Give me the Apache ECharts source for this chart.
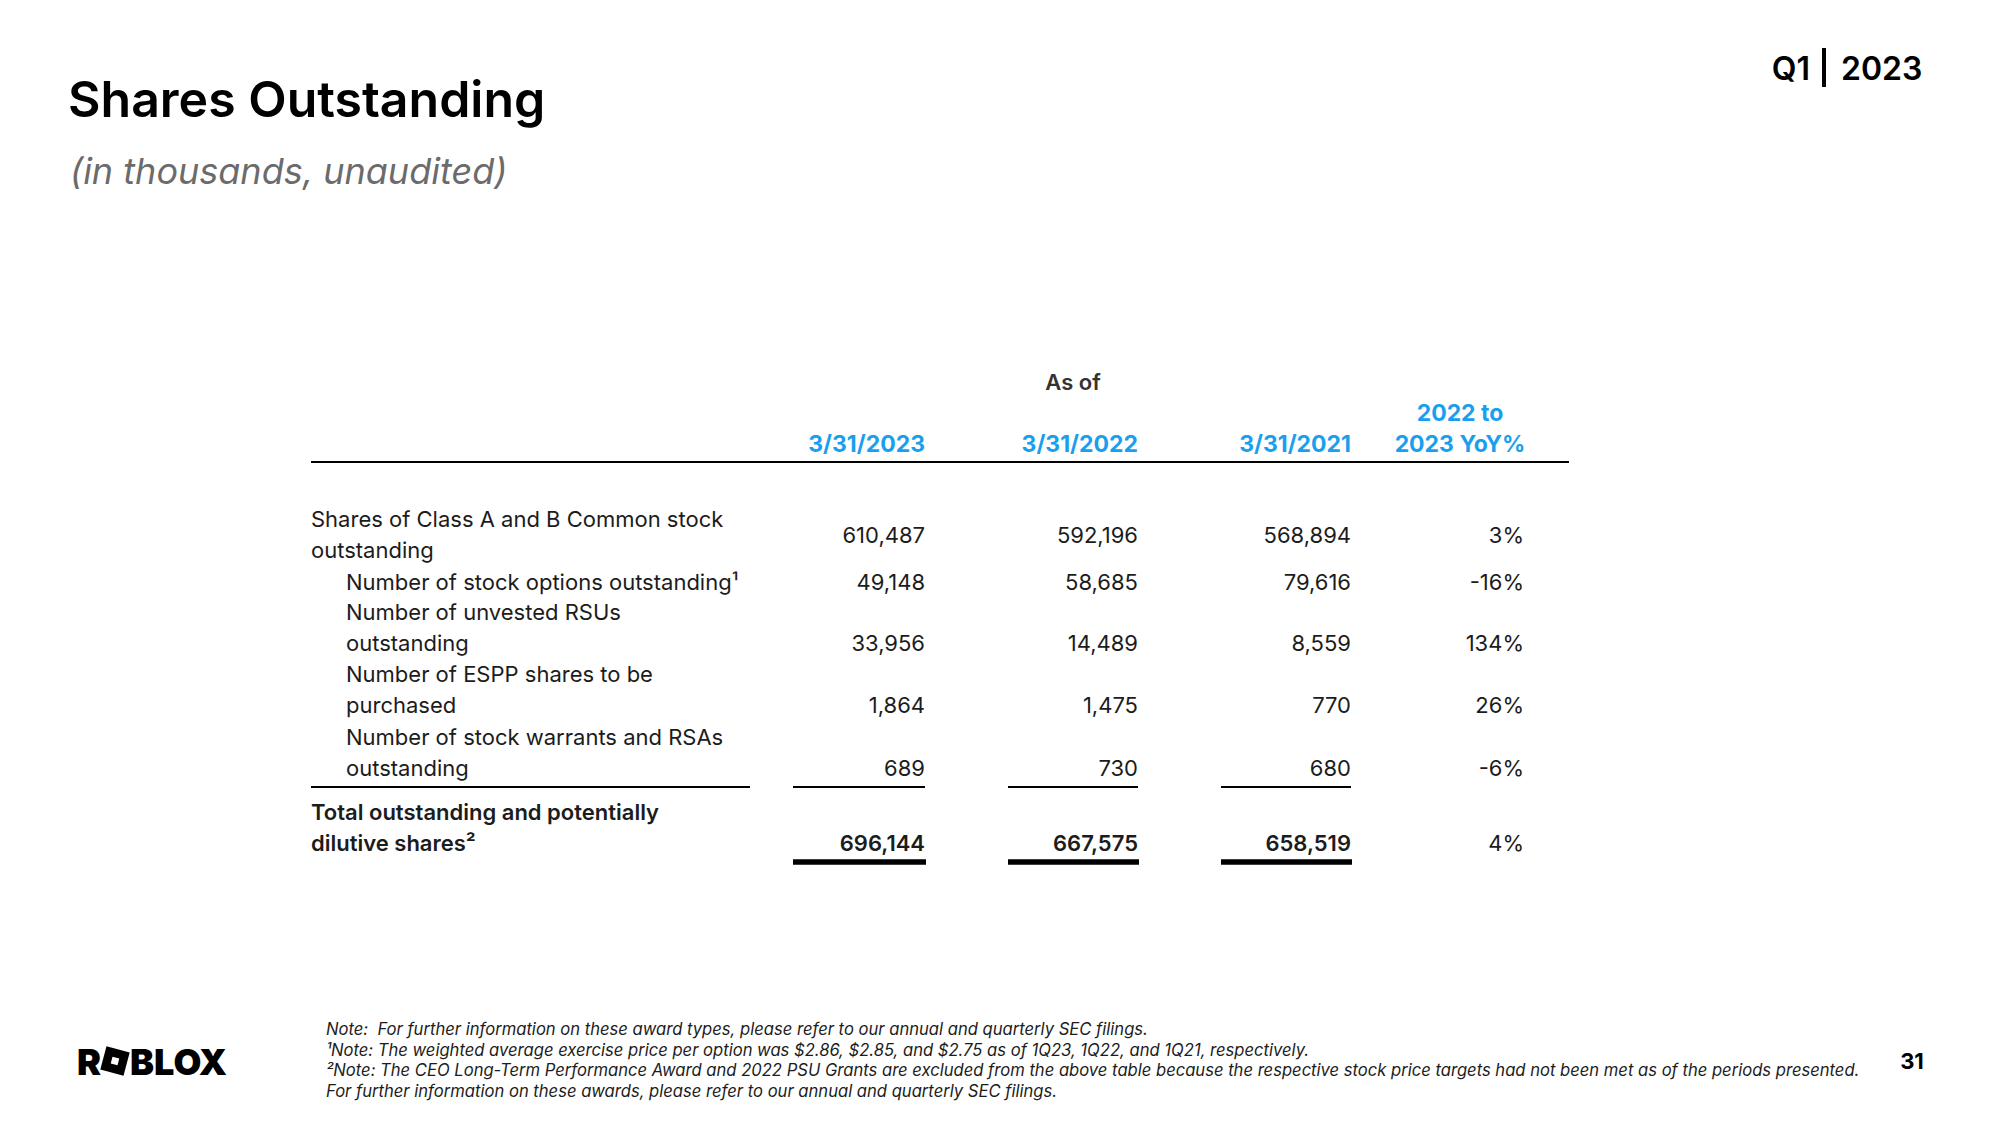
<!DOCTYPE html>
<html><head><meta charset="utf-8">
<script src="https://cdn.jsdelivr.net/npm/echarts@6/dist/echarts.min.js"></script>
<style>html,body{margin:0;padding:0;background:#fff}#c{width:2000px;height:1125px}</style>
</head><body><div id="c"></div>
<script>
// ---------- DATA ----------
const asOfLabel = 'As of';
const columnHeaders = ['3/31/2023', '3/31/2022', '3/31/2021', '2022 to\n2023 YoY%'];
const rowLabels = [
  'Shares of Class A and B Common stock\noutstanding',
  'Number of stock options outstanding\u00B9',
  'Number of unvested RSUs\noutstanding',
  'Number of ESPP shares to be\npurchased',
  'Number of stock warrants and RSAs\noutstanding',
  'Total outstanding and potentially\ndilutive shares\u00B2'
];
const values2023 = [610487, 49148, 33956, 1864, 689, 696144];
const values2022 = [592196, 58685, 14489, 1475, 730, 667575];
const values2021 = [568894, 79616, 8559, 770, 680, 658519];
const yoyPct = [3, -16, 134, 26, -6, 4];
const footnotes = [
  'Note:  For further information on these award types, please refer to our annual and quarterly SEC filings.',
  '\u00B9Note: The weighted average exercise price per option was $2.86, $2.85, and $2.75 as of 1Q23, 1Q22, and 1Q21, respectively.',
  '\u00B2Note: The CEO Long-Term Performance Award and 2022 PSU Grants are excluded from the above table because the respective stock price targets had not been met as of the periods presented.',
  'For further information on these awards, please refer to our annual and quarterly SEC filings.'
];
const titleText = 'Shares Outstanding';
const subtitleText = '(in thousands, unaudited)';
const pageNumber = '31';

// ---------- LAYOUT (pixel units of the full-page grid) ----------
const FONT = 'Inter, "Noto Sans", sans-serif';
const BLUE = '#1A9FEE';
const INK = '#1c1c1c';
const COL_RIGHT = [925, 1138, 1351, 1524];
const COL_LEFT = [793, 1008, 1221];
const YOY_HEADER_CENTER = 1460;
const ROW_Y = [534.5, 582, 643, 705, 768, 843];
const LABEL_X = [311, 346, 346, 346, 346, 311];
const LABEL_ANCHOR = ['middle', 'bottom', 'bottom', 'bottom', 'bottom', 'bottom'];
const LINE_H = 31;
const BODY_SIZE = 22;

const valueCols = [values2023, values2022, values2021];

function fmtNum(v) { return v.toLocaleString('en-US'); }

function renderRow(params, api) {
  const i = params.dataIndex;
  const bold = i === rowLabels.length - 1;
  const weight = bold ? 600 : 400;
  const children = [];
  const lp = api.coord([LABEL_X[i], ROW_Y[i] + (LABEL_ANCHOR[i] === 'bottom' ? LINE_H / 2 : 0)]);
  children.push({
    type: 'text', x: lp[0], y: lp[1],
    style: { text: rowLabels[i], align: 'left', verticalAlign: LABEL_ANCHOR[i],
      lineHeight: LINE_H, fill: INK, fontSize: BODY_SIZE, fontFamily: FONT, fontWeight: weight }
  });
  valueCols.forEach((arr, c) => {
    const p = api.coord([COL_RIGHT[c], ROW_Y[i]]);
    children.push({
      type: 'text', x: p[0], y: p[1],
      style: { text: fmtNum(arr[i]), align: 'right', verticalAlign: 'middle',
        fill: INK, fontSize: BODY_SIZE, fontFamily: FONT, fontWeight: weight }
    });
  });
  const py = api.coord([COL_RIGHT[3], ROW_Y[i]]);
  children.push({
    type: 'text', x: py[0], y: py[1],
    style: { text: yoyPct[i] + '%', align: 'right', verticalAlign: 'middle',
      fill: INK, fontSize: BODY_SIZE, fontFamily: FONT, fontWeight: 400 }
  });
  return { type: 'group', children };
}

function renderFrame(params, api) {
  const children = [];
  // "As of"
  const a = api.coord([1073, 382]);
  children.push({ type: 'text', x: a[0], y: a[1], style: { text: asOfLabel, align: 'center', verticalAlign: 'middle',
    fill: '#333', fontSize: BODY_SIZE, fontFamily: FONT, fontWeight: 600 } });
  // column headers
  columnHeaders.forEach((h, c) => {
    const isYoy = c === 3;
    const p = api.coord([isYoy ? YOY_HEADER_CENTER : COL_RIGHT[c], 444 + LINE_H / 2]);
    children.push({ type: 'text', x: p[0], y: p[1], style: { text: h, align: isYoy ? 'center' : 'right',
      verticalAlign: 'bottom', lineHeight: LINE_H, fill: BLUE, fontSize: 23, fontFamily: FONT, fontWeight: 700 } });
  });
  // header rule
  const h1 = api.coord([311, 462]), h2 = api.coord([1569, 462]);
  children.push({ type: 'line', shape: { x1: h1[0], y1: h1[1], x2: h2[0], y2: h2[1] }, style: { stroke: '#000', lineWidth: 2 } });
  // subtotal rules
  const subY = 787;
  const s1 = api.coord([311, subY]), s2 = api.coord([750, subY]);
  children.push({ type: 'line', shape: { x1: s1[0], y1: s1[1], x2: s2[0], y2: s2[1] }, style: { stroke: '#000', lineWidth: 2 } });
  COL_LEFT.forEach((l, c) => {
    const q1 = api.coord([l, subY]), q2 = api.coord([COL_RIGHT[c], subY]);
    children.push({ type: 'line', shape: { x1: q1[0], y1: q1[1], x2: q2[0], y2: q2[1] }, style: { stroke: '#000', lineWidth: 2 } });
    const t1 = api.coord([l, 862]), t2 = api.coord([COL_RIGHT[c] + 1, 862]);
    children.push({ type: 'line', shape: { x1: t1[0], y1: t1[1], x2: t2[0], y2: t2[1] }, style: { stroke: '#000', lineWidth: 5.5 } });
  });
  return { type: 'group', children };
}

const chart = echarts.init(document.getElementById('c'), null, { renderer: 'svg' });
chart.setOption({
  backgroundColor: '#fff',
  animation: false,
  grid: { left: 0, right: 0, top: 0, bottom: 0 },
  xAxis: { type: 'value', min: 0, max: 2000, show: false },
  yAxis: { type: 'value', min: 0, max: 1125, inverse: true, show: false },
  series: [
    { type: 'custom', renderItem: renderFrame, data: [0], silent: true },
    { type: 'custom', renderItem: renderRow, data: rowLabels.map((_, i) => i), silent: true }
  ],
  graphic: [
    { type: 'text', x: 68, y: 99, style: { text: titleText, align: 'left', verticalAlign: 'middle', fill: '#000', fontSize: 50, fontWeight: 600, fontFamily: FONT } },
    { type: 'text', x: 70, y: 171, style: { text: subtitleText, align: 'left', verticalAlign: 'middle', fill: '#6b6b6b', fontSize: 36, fontStyle: 'italic', fontFamily: FONT } },
    { type: 'text', x: 1810, y: 68, style: { text: 'Q1', align: 'right', verticalAlign: 'middle', fill: '#000', fontSize: 32, fontWeight: 600, fontFamily: FONT } },
    { type: 'rect', shape: { x: 1822, y: 48, width: 4, height: 39 }, style: { fill: '#000' } },
    { type: 'text', x: 1841, y: 68, style: { text: '2023', align: 'left', verticalAlign: 'middle', fill: '#000', fontSize: 32, fontWeight: 600, fontFamily: FONT } },
    // logo
    { type: 'text', x: 77, y: 1062, style: { text: 'R', align: 'left', verticalAlign: 'middle', fill: '#000', fontSize: 36, fontWeight: 900, fontFamily: FONT } },
    { type: 'rect', x: 115, y: 1061, rotation: -0.26, shape: { x: -12, y: -12, width: 24, height: 24 }, style: { fill: '#000' } },
    { type: 'rect', x: 115, y: 1061, rotation: -0.26, shape: { x: -3.5, y: -3.5, width: 7, height: 7 }, style: { fill: '#fff' } },
    { type: 'text', x: 130, y: 1062, style: { text: 'BLOX', align: 'left', verticalAlign: 'middle', fill: '#000', fontSize: 36, fontWeight: 900, fontFamily: FONT } },
    // footnotes
    ...footnotes.map((t, k) => ({ type: 'text', x: 326, y: 1029 + k * 20.7, style: { text: t, align: 'left', verticalAlign: 'middle', fill: '#1c1c1c', fontSize: 16.6, fontStyle: 'italic', fontFamily: FONT } })),
    { type: 'text', x: 1912, y: 1061, style: { text: pageNumber, align: 'center', verticalAlign: 'middle', fill: '#000', fontSize: 22, fontWeight: 700, fontFamily: FONT } }
  ]
});
</script>
</body></html>
